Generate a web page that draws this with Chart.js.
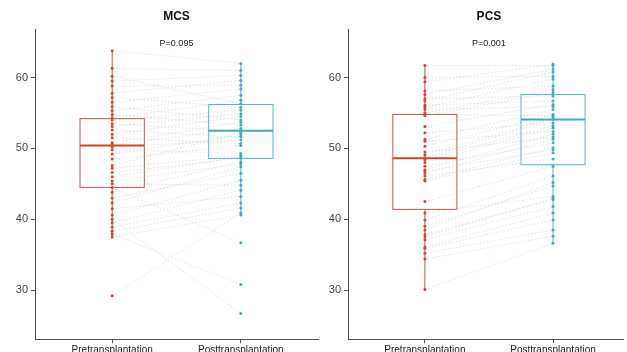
<!DOCTYPE html>
<html>
<head>
<meta charset="utf-8">
<script src="https://cdn.jsdelivr.net/npm/chart.js@4"></script>
<style>
  html, body { margin: 0; padding: 0; background: #fff; }
  #wrap { position: relative; width: 627px; height: 352px; overflow: hidden; }
  canvas { position: absolute; top: 0; }
  #mcsChart { left: 0; }
  #pcsChart { left: 313px; }
</style>
</head>
<body>
<div id="wrap">
  <canvas id="mcsChart" width="322" height="362"></canvas>
  <canvas id="pcsChart" width="314" height="362"></canvas>
</div>
<script>
const categories = ["Pretransplantation", "Posttransplantation"];
const yTicks = [30, 40, 50, 60];

// one entry per patient, same order in pre and post
const mcsPre = [63.8, 61.3, 60.2, 59.5, 58.8, 57.8, 57.2, 56.5, 55.9, 55.3,
  54.8, 54.3, 54.0, 53.5, 53.1, 52.6, 52.0, 51.5, 50.8, 50.5,
  50.2, 49.8, 49.2, 48.5, 47.6, 47.2, 46.6, 46.0, 45.4, 45.0,
  44.5, 43.8, 43.0, 42.3, 41.5, 40.6, 40.0, 39.5, 38.9, 38.3,
  37.9, 37.5, 29.2];
const mcsPost = [62.0, 61.0, 56.3, 60.3, 58.9, 59.6, 55.8, 58.4, 54.0, 57.5,
  53.3, 56.8, 55.4, 52.4, 54.9, 51.6, 54.5, 50.7, 53.7, 52.8,
  51.2, 49.3, 51.9, 50.4, 52.2, 49.0, 48.6, 48.8, 47.8, 44.8,
  36.7, 48.1, 46.5, 47.4, 43.2, 45.5, 26.7, 44.1, 42.3, 41.6,
  30.8, 40.6, 40.9];

const pcsPre = [61.7, 60.0, 59.4, 58.1, 57.6, 57.0, 56.7, 56.1, 55.8, 55.5,
  55.0, 54.8, 54.6, 53.1, 52.2, 51.3, 51.0, 50.3, 49.5, 49.1,
  48.7, 48.4, 48.0, 47.5, 47.0, 46.8, 46.5, 46.1, 45.6, 45.4,
  42.5, 40.9, 39.9, 39.0, 38.5, 37.8, 37.5, 37.1, 36.1, 35.9,
  35.2, 34.4, 30.1];
const pcsPost = [61.7, 60.2, 61.9, 58.8, 61.2, 57.4, 60.8, 56.7, 59.8, 55.9,
  58.3, 54.6, 57.9, 56.2, 53.6, 55.5, 52.4, 54.8, 51.6, 54.3,
  54.1, 53.2, 52.9, 50.8, 52.0, 49.8, 51.3, 48.5, 50.1, 49.4,
  47.5, 43.2, 46.1, 44.7, 45.2, 42.8, 43.0, 41.8, 40.9, 39.9,
  38.5, 37.6, 36.6];

// box stats: [lower whisker, Q1, median, Q3, upper whisker]
const mcsBoxPre = [37.5, 44.5, 50.4, 54.2, 63.8];
const mcsBoxPost = [40.6, 48.6, 52.5, 56.2, 62.0];
const pcsBoxPre = [30.0, 41.4, 48.6, 54.8, 61.7];
const pcsBoxPost = [36.6, 47.7, 54.1, 57.6, 62.0];

const RED = "#dd3f2d";
const RED_BOX = "#b35a4c";
const TEAL = "#3aacc3";
const TEAL_BOX = "#58b4c7";
const AXIS = "#555050";
const FONT = "'Liberation Sans', Arial, sans-serif";

const boxPlugin = {
  id: "boxes",
  beforeDatasetsDraw(chart, args, opts) {
    const { ctx } = chart;
    const xs = chart.scales.x;
    const ys = chart.scales.y;
    opts.boxes.forEach((b, i) => {
      const xc = xs.getPixelForValue(i + 1);
      const x0 = xs.getPixelForValue(i + 1 - 0.25);
      const x1 = xs.getPixelForValue(i + 1 + 0.25);
      const [lo, q1, med, q3, hi] = b.stats.map((v) => ys.getPixelForValue(v));
      ctx.save();
      ctx.strokeStyle = b.color;
      ctx.lineWidth = 1;
      ctx.beginPath();
      ctx.moveTo(xc, lo); ctx.lineTo(xc, q1);
      ctx.moveTo(xc, q3); ctx.lineTo(xc, hi);
      ctx.stroke();
      ctx.strokeRect(x0, q3, x1 - x0, q1 - q3);
      ctx.strokeStyle = b.median;
      ctx.lineWidth = 2;
      ctx.beginPath();
      ctx.moveTo(x0, med); ctx.lineTo(x1, med);
      ctx.stroke();
      ctx.restore();
    });
  },
  afterDraw(chart, args, opts) {
    const { ctx } = chart;
    const cx = chart.scales.x.getPixelForValue(1.5);
    ctx.save();
    ctx.textAlign = "center";
    ctx.textBaseline = "middle";
    ctx.fillStyle = "#111";
    ctx.font = "bold 12px " + FONT;
    ctx.fillText(opts.title, cx, 17);
    ctx.fillStyle = "#222";
    ctx.font = "9px " + FONT;
    ctx.fillText(opts.pText, cx, chart.scales.y.getPixelForValue(64.8));
    ctx.restore();
  }
};

function makeChart(canvasId, title, pText, pre, post, boxPre, boxPost, xMax) {
  const canvas = document.getElementById(canvasId);
  const pairs = [];
  pre.forEach((v, i) => {
    pairs.push({ x: 1, y: v }, { x: 2, y: post[i] }, { x: 1.5, y: null });
  });

  return new Chart(canvas, {
    type: "scatter",
    data: {
      datasets: [
        {
          type: "line",
          data: pairs,
          borderColor: "rgba(165, 165, 165, 0.4)",
          borderWidth: 0.8,
          borderDash: [1.5, 2],
          pointRadius: 0,
          spanGaps: false,
          order: 3
        },
        {
          data: pre.map((v) => ({ x: 1, y: v })),
          backgroundColor: RED,
          borderWidth: 0,
          pointRadius: 1.5,
          order: 1
        },
        {
          data: post.map((v) => ({ x: 2, y: v })),
          backgroundColor: TEAL,
          borderWidth: 0,
          pointRadius: 1.5,
          order: 1
        }
      ]
    },
    options: {
      responsive: false,
      devicePixelRatio: 1,
      animation: false,
      layout: { padding: { top: 29.4, left: 0, right: 0, bottom: 0 } },
      plugins: {
        legend: { display: false },
        tooltip: { enabled: false },
        title: { display: false },
        boxes: {
          title,
          pText,
          boxes: [
            { stats: boxPre, color: RED_BOX, median: RED },
            { stats: boxPost, color: TEAL_BOX, median: TEAL }
          ]
        }
      },
      scales: {
        x: {
          type: "linear",
          min: 0.4,
          max: xMax,
          afterBuildTicks(scale) {
            scale.ticks = [{ value: 1 }, { value: 2 }];
          },
          afterFit(scale) {
            scale.height = 362 - 339;
          },
          ticks: {
            padding: 1,
            color: "#222",
            font: { family: FONT, size: 10 },
            maxRotation: 0,
            callback(value) {
              return categories[value - 1] || "";
            }
          },
          grid: { drawOnChartArea: false, drawTicks: true, tickLength: 4, color: AXIS },
          border: { display: true, color: AXIS, width: 1 }
        },
        y: {
          min: 23.1,
          max: 66.8,
          afterBuildTicks(scale) {
            scale.ticks = yTicks.map((v) => ({ value: v }));
          },
          afterFit(scale) {
            scale.width = 35;
          },
          ticks: {
            padding: 3,
            color: "#444",
            font: { family: FONT, size: 11 }
          },
          grid: { drawOnChartArea: false, drawTicks: true, tickLength: 4, color: AXIS },
          border: { display: true, color: AXIS, width: 1 }
        }
      }
    },
    plugins: [boxPlugin]
  });
}

makeChart("mcsChart", "MCS", "P=0.095", mcsPre, mcsPost, mcsBoxPre, mcsBoxPost, 2.6);
makeChart("pcsChart", "PCS", "P=0.001", pcsPre, pcsPost, pcsBoxPre, pcsBoxPost, 2.546);
</script>
</body>
</html>
